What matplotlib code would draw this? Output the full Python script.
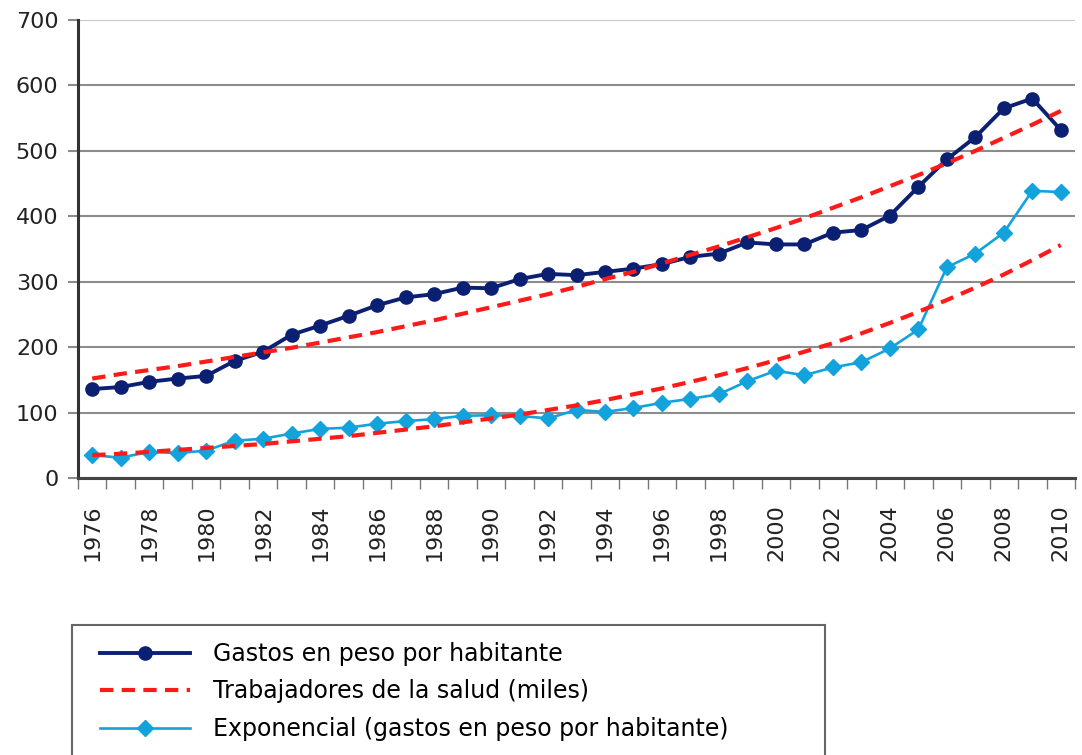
import matplotlib.pyplot as plt
from matplotlib.patches import Rectangle
import numpy as np

years = list(range(1976, 2011))

gastos = [136, 139, 147, 152, 156, 179, 193, 219, 233, 248,
          264, 276, 281, 291, 290, 304, 312, 310, 315, 320,
          327, 338, 343, 360, 357, 357, 375, 379, 401, 445,
          487, 521, 565, 580, 532]

exponencial = [35, 31, 40, 38, 42, 57, 60, 68, 75, 77,
               83, 87, 90, 95, 96, 95, 91, 104, 101, 107,
               115, 121, 128, 148, 164, 157, 169, 177, 198, 227,
               322, 343, 375, 439, 437]

# trend lines (red dashed)
trend_gastos = [152, 159, 165, 171, 178, 185, 192, 199, 207, 215,
                223, 232, 241, 251, 261, 271, 281, 292, 304, 315,
                328, 341, 354, 368, 382, 397, 413, 429, 446, 463,
                481, 500, 520, 540, 561]

trend_exp = [35, 37, 40, 43, 46, 49, 52, 56, 60, 64,
             69, 74, 79, 85, 91, 97, 104, 111, 119, 128,
             137, 147, 157, 168, 180, 193, 206, 221, 237, 254,
             272, 291, 311, 333, 356]

labels = ['Gastos en peso por habitante',
          'Trabajadores de la salud (miles)',
          'Exponencial (gastos en peso por habitante)']

navy = '#0b1f73'
cyan = '#12a3dc'
red = '#ff1a1a'

fig = plt.figure(figsize=(10.82, 7.55), dpi=100)
ax = fig.add_axes([78 / 1082, 1 - 478 / 755, (1075 - 78) / 1082, (478 - 20) / 755])

x = np.arange(len(years))

l1, = ax.plot(x, gastos, color=navy, lw=2.8, marker='o', ms=9.5, zorder=3)
l3, = ax.plot(x, exponencial, color=cyan, lw=1.9, marker='D', ms=8.5, zorder=3)
l2, = ax.plot(x, trend_gastos, color=red, lw=3, dashes=(3.2, 2.0), zorder=4)
ax.plot(x, trend_exp, color=red, lw=3, dashes=(3.2, 2.0), zorder=4)

ax.set_xlim(-0.5, len(years) - 0.5)
ax.set_ylim(0, 700)
ax.set_yticks(range(0, 701, 100))
ax.yaxis.grid(True, color='#8c8c8c', lw=1.5)
ax.set_axisbelow(True)
ax.get_ygridlines()[-1].set_color('#c8c8c8')

ax.set_xticks(x[::2])
ax.set_xticklabels([str(y) for y in years[::2]], rotation=90)
ax.set_xticks(np.arange(-0.5, len(years), 1), minor=True)
ax.tick_params(axis='x', which='major', length=0, pad=19, labelsize=16, colors='#222222')
ax.tick_params(axis='x', which='minor', length=8, width=1, color='#777777')
ax.tick_params(axis='y', length=7, width=1.5, color='#8c8c8c', labelsize=16,
               labelcolor='#222222', pad=7)

for s in ['top', 'right']:
    ax.spines[s].set_visible(False)
ax.spines['left'].set_color('#333333')
ax.spines['left'].set_linewidth(2.2)
ax.spines['bottom'].set_color('#444444')
ax.spines['bottom'].set_linewidth(2.2)

# legend box, cut off at bottom of the picture
fig.patches.append(Rectangle((72 / 1082, -0.05), (825 - 72) / 1082, 1 - 625 / 755 + 0.05,
                             transform=fig.transFigure, fill=False,
                             edgecolor='#666666', lw=1.5))
fig.legend([l1, l2, l3], labels, loc='upper left',
           bbox_to_anchor=(100 / 1082, 1 - 642 / 755), frameon=False,
           fontsize=17, handlelength=3.8, handletextpad=1.0, labelspacing=0.57,
           borderaxespad=0, borderpad=0)

fig.savefig('out.png', dpi=100)
